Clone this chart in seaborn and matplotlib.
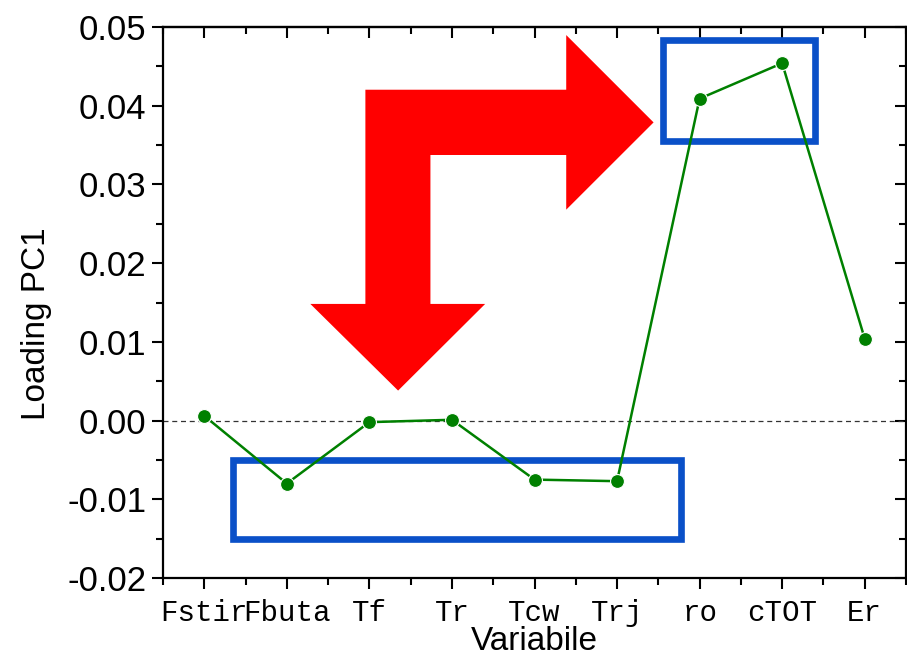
import numpy as np
import matplotlib
matplotlib.use("Agg")
import matplotlib.pyplot as plt
from matplotlib.patches import Rectangle, Polygon
from matplotlib.ticker import MultipleLocator
import seaborn as sns

categories = ["Fstir", "Fbuta", "Tf", "Tr", "Tcw", "Trj", "ro", "cTOT", "Er"]
loadings = [0.0006, -0.0080, -0.0002, 0.0001, -0.0075, -0.0077, 0.0409, 0.0454, 0.0104]
y_ticks = [-0.02, -0.01, 0.00, 0.01, 0.02, 0.03, 0.04, 0.05]
y_ticklabels = ["-0.02", "-0.01", "0.00", "0.01", "0.02", "0.03", "0.04", "0.05"]

# highlight boxes (x in category index, y in data units): x0, y0, x1, y1
box_low = [0.35, -0.0151, 5.77, -0.0050]
box_high = [5.56, 0.0355, 7.40, 0.0484]

# bent red arrow outline (pixel positions converted to data units below)
arrow_px = [(366, 89), (566.7, 89), (566.7, 34.3), (654, 121.7), (566.7, 209),
            (566.7, 154.3), (431, 154.3), (431, 303.3), (485.7, 303.3),
            (398.7, 390), (311, 303.3), (366, 303.3)]

sns.set_theme(style="white")
plt.rcParams['font.family'] = ['Liberation Sans', 'DejaVu Sans']
plt.rcParams['text.color'] = 'black'
plt.rcParams['axes.labelcolor'] = 'black'
plt.rcParams['xtick.color'] = 'black'
plt.rcParams['ytick.color'] = 'black'

fig = plt.figure(figsize=(9.07, 6.57), dpi=100)
ax = fig.add_axes([163/907, 79/657, 743/907, 551/657])

x = np.arange(len(categories))
ax.axhline(0, color="#333333", lw=0.9, ls=(0, (4, 3)), zorder=1)

def px2data(px, py):
    return ((px - 205) / 82.5, (420 - py) / 7875.0)
arrow_pts = [px2data(px, py) for px, py in arrow_px]
ax.add_patch(Polygon(arrow_pts, closed=True, facecolor="#ff0000", edgecolor="none", zorder=2))

for b in (box_low, box_high):
    ax.add_patch(Rectangle((b[0], b[1]), b[2] - b[0], b[3] - b[1], fill=False,
                           edgecolor="#0a50c8", lw=4.8, zorder=3))

sns.lineplot(x=x, y=loadings, ax=ax, color="#008000", lw=1.8, marker="o",
             markersize=10, markeredgecolor="white", markeredgewidth=0.8, zorder=4)

ax.set_xlim(-0.5, 8.5)
ax.set_ylim(-0.02, 0.05)
ax.set_xticks(x)
ax.set_xticklabels(categories, family=['Liberation Mono', 'DejaVu Sans Mono'], fontsize=21)
ax.xaxis.set_minor_locator(MultipleLocator(0.5))
ax.set_yticks(y_ticks)
ax.set_yticklabels(y_ticklabels, fontsize=25)
ax.yaxis.set_minor_locator(MultipleLocator(0.005))

for s in ax.spines.values():
    s.set_linewidth(1.6)
    s.set_color("black")

ax.tick_params(which="major", direction="out", length=8, width=1.5, color="black",
               bottom=True, left=True, top=False, right=False, pad=4)
ax.tick_params(which="minor", direction="out", length=5, width=1.5, color="black",
               bottom=True, left=True, top=False, right=False)
ax.tick_params(axis="x", which="major", pad=7)

sec_x = ax.secondary_xaxis("top")
sec_x.set_xticks(x)
sec_x.xaxis.set_minor_locator(MultipleLocator(0.5))
sec_x.tick_params(which="both", direction="in", labeltop=False, width=1.5, color="black")
sec_x.tick_params(which="major", length=8)
sec_x.tick_params(which="minor", length=5)
sec_x.spines["top"].set_linewidth(1.6)
sec_y = ax.secondary_yaxis("right")
sec_y.set_yticks(y_ticks)
sec_y.yaxis.set_minor_locator(MultipleLocator(0.005))
sec_y.tick_params(which="both", direction="in", labelright=False, width=1.5, color="black")
sec_y.tick_params(which="major", length=8)
sec_y.tick_params(which="minor", length=5)

ax.set_xlabel("Variabile", fontsize=24)
ax.xaxis.set_label_coords(0.5, -0.088)
ax.set_ylabel("Loading PC1", fontsize=24)
ax.yaxis.set_label_coords(-0.17, 0.461)
ax.yaxis.label.set_verticalalignment("center")

fig.savefig("out.png", dpi=100)
